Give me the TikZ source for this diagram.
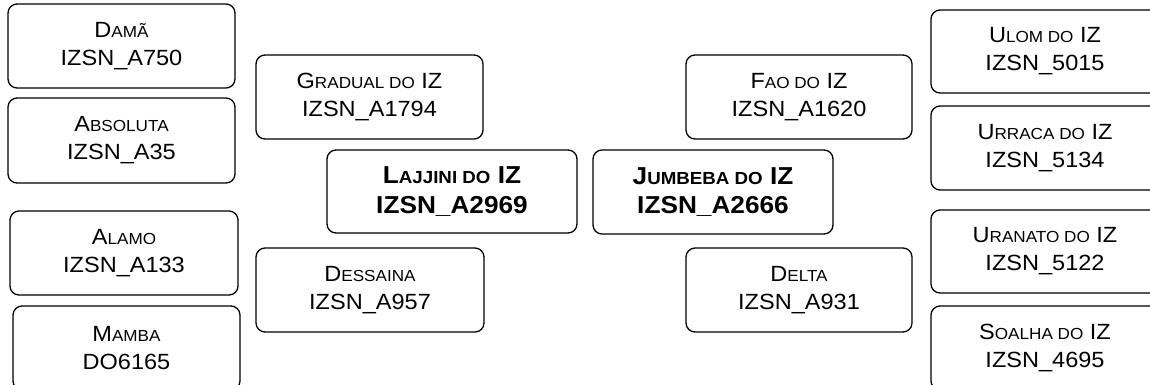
\documentclass[tikz,border=0pt]{standalone}
\usepackage{fontspec}
\setmainfont{Liberation Sans}[FakeStretch=1.07]
\newcommand\smc[1]{{\fontsize{16}{16}\selectfont #1}}
\newcommand\smcb[1]{{\fontsize{17.5}{17.5}\selectfont #1}}
\tikzset{
  box/.style={draw, line width=1.3pt, rounded corners=9pt, inner sep=0pt, align=center,
    font=\fontsize{22}{28}\selectfont},
  mainbox/.style={box, font=\fontsize{24.5}{29.5}\selectfont\bfseries}
}
\begin{document}
\begin{tikzpicture}[x=1pt,y=-1pt]
\useasboundingbox (0,0) rectangle (1150,385);
\clip (0,0) rectangle (1150,385);
% left column
\node[box, minimum width=227pt, minimum height=84pt] (dama) at (121.5,46) {D\smc{AMÃ}\\IZSN\_A750};
\node[box, minimum width=227pt, minimum height=85pt] (absoluta) at (121.5,140.5) {A\smc{BSOLUTA}\\IZSN\_A35};
\node[box, minimum width=228pt, minimum height=84pt] (alamo) at (124,253) {A\smc{LAMO}\\IZSN\_A133};
\node[box, minimum width=227pt, minimum height=84pt] (mamba) at (126.5,348) {M\smc{AMBA}\\DO6165};
% middle left
\node[box, minimum width=227pt, minimum height=84pt] (gradual) at (369.5,97) {G\smc{RADUAL DO} IZ\\IZSN\_A1794};
\node[mainbox, minimum width=250pt, minimum height=83pt] (lajjini) at (452,191.5) {L\smcb{AJJINI DO} IZ\\IZSN\_A2969};
\node[box, minimum width=228pt, minimum height=84pt] (dessaina) at (370,290) {D\smc{ESSAINA}\\IZSN\_A957};
% middle right
\node[mainbox, minimum width=240pt, minimum height=84pt] (jumbeba) at (713,192) {J\smcb{UMBEBA DO} IZ\\IZSN\_A2666};
\node[box, minimum width=226pt, minimum height=84pt] (fao) at (799,97) {F\smc{AO DO} IZ\\IZSN\_A1620};
\node[box, minimum width=226pt, minimum height=84pt] (delta) at (799,290) {D\smc{ELTA}\\IZSN\_A931};
% right column
\node[box, minimum width=228pt, minimum height=83pt] (ulom) at (1045,51.5) {U\smc{LOM DO} IZ\\IZSN\_5015};
\node[box, minimum width=228pt, minimum height=84pt] (urraca) at (1045,148) {U\smc{RRACA DO} IZ\\IZSN\_5134};
\node[box, minimum width=228pt, minimum height=83pt] (uranato) at (1045,251.5) {U\smc{RANATO DO} IZ\\IZSN\_5122};
\node[box, minimum width=228pt, minimum height=84pt] (soalha) at (1045,348) {S\smc{OALHA DO} IZ\\IZSN\_4695};
\end{tikzpicture}
\end{document}
